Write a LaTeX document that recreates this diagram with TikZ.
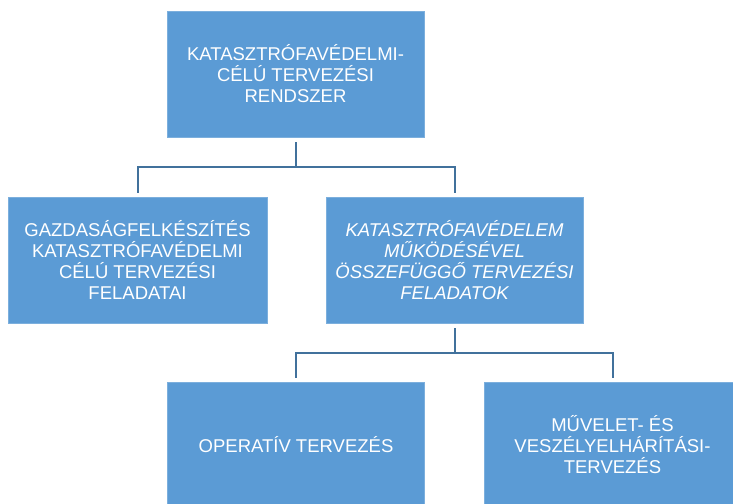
\documentclass[tikz,border=0pt]{standalone}
\usepackage{fontspec}
\setmainfont{Liberation Sans}
\usepackage{xcolor}
\definecolor{boxblue}{RGB}{91, 155, 213}
\definecolor{lineblue}{RGB}{65, 113, 156}

\begin{document}
\begin{tikzpicture}[x=1pt,y=-1pt,
    plan/.style={fill=boxblue,draw=boxblue!80!white,line width=0.6pt,
      minimum width=257pt,minimum height=126pt,inner sep=0pt,
      align=center,text=white,font=\fontsize{18.5}{21}\selectfont},
    link/.style={draw=lineblue,line width=2pt,
      shorten <=5pt,shorten >=4pt}]
            \useasboundingbox (0,0) rectangle (733,503);
            \clip (0,0) rectangle (733,503);

            \node[plan] (rendszer) at (295.5,74) {KATASZTRÓFAVÉDELMI-\\CÉLÚ TERVEZÉSI\\RENDSZER};
            \node[plan,minimum width=259pt] (gazdasag) at (137.5,260) {GAZDASÁGFELKÉSZÍTÉS\\KATASZTRÓFAVÉDELMI\\CÉLÚ TERVEZÉSI\\FELADATAI};
            \node[plan,font=\fontsize{18.5}{21}\selectfont\itshape] (mukodes) at (454.5,260) {KATASZTRÓFAVÉDELEM\\MŰKÖDÉSÉVEL\\ÖSSZEFÜGGŐ TERVEZÉSI\\FELADATOK};
            \node[plan] (operativ) at (296,445) {OPERATÍV TERVEZÉS};
            \node[plan] (muvelet) at (612.5,445) {MŰVELET- ÉS\\VESZÉLYELHÁRÍTÁSI-\\TERVEZÉS};

            \draw[link] (rendszer.south) -- ++(0,30) -| (gazdasag.north);
            \draw[link] (rendszer.south) -- ++(0,30) -| (mukodes.north);
            \draw[link] (mukodes.south) -- ++(0,30) -| (operativ.north);
            \draw[link] (mukodes.south) -- ++(0,30) -| (muvelet.north);
        \end{tikzpicture}
\end{document}
